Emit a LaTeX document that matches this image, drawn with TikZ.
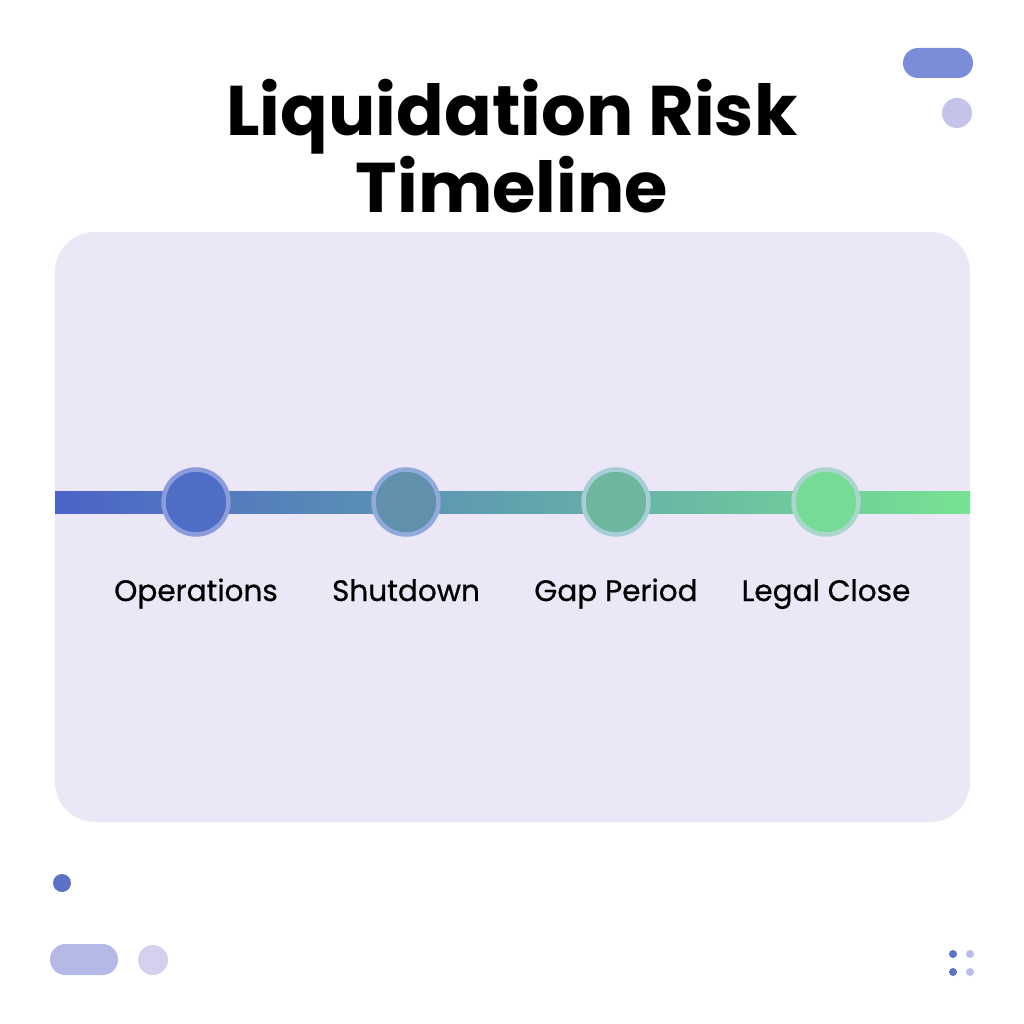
\documentclass[tikz,border=0pt]{standalone}
\usepackage{fontspec}
\setmainfont{Poppins}
\newfontfamily\lqlabelfont[FakeBold=0.7]{Poppins}
\usepackage{tikz}
\usetikzlibrary{positioning,shapes,backgrounds}
\usepackage{xcolor}
\definecolor{lqcard}{RGB}{236,231,246}
\definecolor{lqblue}{RGB}{74,99,200}
\definecolor{lqgreen}{RGB}{120,226,146}
\definecolor{lqpill}{RGB}{123,140,216}
\definecolor{lqlilac}{RGB}{197,195,234}
\definecolor{lqdot}{RGB}{91,114,200}
\definecolor{lqpill2}{RGB}{181,185,232}
\definecolor{lqlilac2}{RGB}{211,209,238}
\definecolor{lqdotlight}{RGB}{185,188,230}
\definecolor{lqringa}{RGB}{140,155,219}
\definecolor{lqringb}{RGB}{145,170,222}
\definecolor{lqringc}{RGB}{166,206,214}
\definecolor{lqringd}{RGB}{170,214,205}
\tikzstyle{stage} = [circle, minimum size=6.5mm, inner sep=0pt, line width=0.45mm]
\tikzstyle{stagelabel} = [font=\lqlabelfont\fontsize{8.4}{10}\selectfont, text=black, inner sep=0pt, text height=2.2mm, text depth=0.6mm]

\begin{document}
\begin{tikzpicture}[x=0.1mm, y=-0.1mm]
\useasboundingbox[fill=white] (0,0) rectangle (1024,1024);
% card
\fill[lqcard, rounded corners=4mm] (55,232) rectangle (970,822);
% title
\node[font=\fontsize{20}{21.9}\selectfont\bfseries, align=center] (title) at (512,146) {Liquidation Risk\\Timeline};
% timeline bar
\coordinate (barL) at (55,491);
\coordinate (barR) at (970,513);
\shade[left color=lqblue, right color=lqgreen] (barL) rectangle (barR);
% stages
\node[stage, fill=lqblue!92!lqgreen, draw=lqringa] (ops) at (196,502) {};
\node[stage, on grid, fill=lqblue!62!lqgreen!85!gray, draw=lqringb, right=21mm of ops] (shut) {};
\node[stage, on grid, fill=lqblue!28!lqgreen!88!gray, draw=lqringc, right=21mm of shut] (gap) {};
\node[stage, on grid, fill=lqgreen!95!lqblue, draw=lqringd, right=21mm of gap] (legal) {};
% labels
\node[stagelabel, on grid, below=9.1mm of ops] (opsl) {Operations};
\node[stagelabel, on grid, below=9.1mm of shut] (shutl) {Shutdown};
\node[stagelabel, on grid, below=9.1mm of gap] (gapl) {Gap Period};
\node[stagelabel, on grid, below=9.1mm of legal] (legall) {Legal Close};
% decorations
\fill[lqpill, rounded corners=1.5mm] (903,48) rectangle (973,78);
\fill[lqlilac] (957,113) circle (15);
\fill[lqdot] (62,883) circle (9);
\fill[lqpill2, rounded corners=1.55mm] (50,944) rectangle (118,975);
\fill[lqlilac2] (153,960) circle (15);
\foreach \dx/\dc in {953/lqdot, 970/lqdotlight}
  \foreach \dy in {954,972}
    \fill[\dc] (\dx,\dy) circle (4);
\end{tikzpicture}
\end{document}
